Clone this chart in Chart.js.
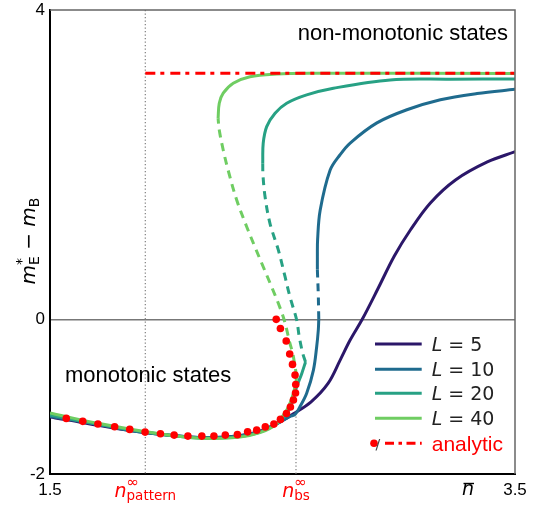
<!DOCTYPE html>
<html>
<head>
<meta charset="utf-8">
<script src="https://cdn.jsdelivr.net/npm/chart.js@4.4.0/dist/chart.umd.min.js"></script>
<style>
  html, body { margin: 0; padding: 0; background: #fff; }
</style>
</head>
<body>
<canvas id="fig" width="538" height="506"></canvas>
<script>
// ticks and special positions on the axes
const xTicks = [1.5, 3.5];
const yTicks = [-2, 0, 4];
const nPattern = 1.91;
const nBs = 2.558;
const yJoin = -1.21;
const analyticLevel = 3.182;

// system sizes and their colours
const sizes = [5, 10, 20, 40];
const colours = ['#2b1769', '#1f6b8e', '#27a184', '#6fcd62'];

// curves as [n, m*_E - m_B]; "mid" is the unstable (dashed) branch
const l5 = [[1.500,-1.264],[1.567,-1.296],[1.713,-1.374],[1.907,-1.464],[2.101,-1.523],[2.209,-1.529],
  [2.317,-1.503],[2.403,-1.445],[2.489,-1.329],[2.545,-1.225],[2.623,-1.066],[2.696,-0.828],[2.748,-0.527],
  [2.791,-0.268],[2.843,0.0],[2.912,0.405],[2.981,0.819],[3.050,1.155],[3.136,1.505],[3.244,1.802],
  [3.381,2.035],[3.501,2.168]];

const l10Low = [[1.500,-1.255],[1.567,-1.287],[1.713,-1.365],[1.907,-1.464],[2.101,-1.520],[2.209,-1.527],
  [2.317,-1.508],[2.403,-1.450],[2.489,-1.326],[2.532,-1.255],[2.554,-1.229],[2.575,-1.131],[2.604,-0.957],
  [2.633,-0.656],[2.647,-0.354],[2.654,-0.138],[2.656,0.0]];
const l10Mid = [[2.656,0.0],[2.654,0.31],[2.650,0.64]];
const l10High = [[2.650,0.64],[2.650,0.80],[2.651,1.03],[2.662,1.41],[2.705,1.93],[2.748,2.13],
  [2.791,2.28],[2.906,2.54],[3.035,2.71],[3.179,2.84],[3.337,2.92],[3.501,2.975]];

const l20Low = [[1.500,-1.238],[1.567,-1.277],[1.713,-1.361],[1.907,-1.458],[2.101,-1.529],[2.209,-1.536],
  [2.317,-1.516],[2.403,-1.458],[2.480,-1.341],[2.523,-1.199],[2.540,-1.087],[2.561,-0.872],[2.583,-0.699],
  [2.599,-0.552]];
const l20Mid = [[2.599,-0.552],[2.587,-0.440],[2.572,-0.225],[2.561,-0.009],[2.532,0.292],[2.511,0.551],
  [2.482,0.897],[2.446,1.242],[2.425,1.586],[2.416,1.867],[2.415,2.018]];
const l20High = [[2.415,2.018],[2.417,2.277],[2.432,2.492],[2.468,2.665],[2.518,2.794],[2.604,2.902],
  [2.719,2.988],[2.963,3.096],[3.222,3.105],[3.501,3.109]];

const l40Low = [[1.500,-1.212],[1.567,-1.257],[1.713,-1.348],[1.907,-1.451],[2.101,-1.529],[2.209,-1.542],
  [2.317,-1.523],[2.403,-1.464],[2.468,-1.367],[2.518,-1.173],[2.540,-1.022],[2.554,-0.872],[2.561,-0.743]];
const l40Mid = [[2.561,-0.743],[2.554,-0.613],[2.544,-0.440],[2.532,-0.310],[2.515,-0.096],[2.503,0.034],
  [2.482,0.207],[2.453,0.422],[2.417,0.680],[2.381,0.939],[2.346,1.198],[2.303,1.543],[2.266,1.931],
  [2.245,2.190],[2.228,2.449],[2.223,2.600]];
const l40High = [[2.223,2.600],[2.228,2.794],[2.245,2.924],[2.288,3.053],[2.360,3.138],[2.475,3.173],
  [2.619,3.182],[3.501,3.180]];

// analytic result: dots for the monotonic branch, flat line for the non-monotonic one
const analyticDots = [[1.570,-1.281],[1.641,-1.319],[1.706,-1.354],[1.778,-1.389],[1.843,-1.423],[1.909,-1.458],
  [1.975,-1.480],[2.034,-1.497],[2.093,-1.510],[2.153,-1.510],[2.205,-1.510],[2.254,-1.497],[2.306,-1.491],
  [2.350,-1.455],[2.389,-1.433],[2.426,-1.391],[2.463,-1.355],[2.491,-1.294],[2.517,-1.218],[2.534,-1.134],
  [2.547,-1.044],[2.556,-0.953],[2.557,-0.844],[2.554,-0.721],[2.543,-0.583],[2.531,-0.449],[2.516,-0.281],
  [2.491,-0.119],[2.473,0.0]];
const analyticLine = [[nPattern, analyticLevel], [3.5, analyticLevel]];

const branches = [
  [l5],
  [l10Low, l10Mid, l10High],
  [l20Low, l20Mid, l20High],
  [l40Low, l40Mid, l40High]
];

const toXY = arr => arr.map(p => ({ x: p[0], y: p[1] }));

// first dataset is drawn on top in Chart.js, so analytic goes first and L=5 last
const datasets = [
  { data: toXY(analyticDots), showLine: false, pointRadius: 3.8, pointBackgroundColor: '#ff0000',
    pointBorderWidth: 0 },
  { data: toXY(analyticLine), showLine: true, pointRadius: 0, borderColor: '#ff0000', borderWidth: 3,
    borderDash: [10, 5, 4, 6] }
];
for (let i = sizes.length - 1; i >= 0; i--) {
  branches[i].forEach((b, k) => {
    const dashed = branches[i].length === 3 && k === 1;
    datasets.push({
      data: toXY(b), showLine: true, pointRadius: 0, borderColor: colours[i], borderWidth: 3,
      borderDash: dashed ? [8, 6] : [], tension: 0.35
    });
  });
}

// draw a run of text pieces (sub/superscripts) starting at x, baseline y
function drawParts(ctx, parts, x, y) {
  let cx = x;
  parts.forEach(p => {
    ctx.font = p.font;
    ctx.fillStyle = p.color || '#000';
    ctx.fillText(p.t, cx, y + (p.dy || 0));
    if (!p.stay) cx += ctx.measureText(p.t).width;
  });
  return cx - x;
}
function partsWidth(ctx, parts) {
  let w = 0;
  parts.forEach(p => { ctx.font = p.font; if (!p.stay) w += ctx.measureText(p.t).width; });
  return w;
}

const decor = {
  id: 'decor',
  beforeDatasetsDraw(chart) {
    const ctx = chart.ctx, a = chart.chartArea;
    const xs = chart.scales.x, ys = chart.scales.y;
    ctx.save();
    ctx.strokeStyle = '#888';
    ctx.lineWidth = 1.3;
    ctx.setLineDash([1.3, 2.2]);
    let px = xs.getPixelForValue(nPattern);
    ctx.beginPath(); ctx.moveTo(px, a.top); ctx.lineTo(px, a.bottom); ctx.stroke();
    px = xs.getPixelForValue(nBs);
    ctx.beginPath(); ctx.moveTo(px, ys.getPixelForValue(yJoin)); ctx.lineTo(px, a.bottom); ctx.stroke();
    ctx.restore();
  },
  afterDraw(chart) {
    const ctx = chart.ctx, a = chart.chartArea;
    const xs = chart.scales.x;
    ctx.save();
    // top and right frame
    ctx.strokeStyle = '#666';
    ctx.lineWidth = 1.5;
    ctx.beginPath();
    ctx.moveTo(a.left, a.top); ctx.lineTo(a.right, a.top); ctx.lineTo(a.right, a.bottom);
    ctx.stroke();

    const sans = 'Liberation Sans, Arial, sans-serif';
    const dv = '"DejaVu Sans", sans-serif';
    ctx.textBaseline = 'alphabetic';

    // region labels
    ctx.fillStyle = '#000';
    ctx.font = '22px ' + sans;
    ctx.textAlign = 'right';
    ctx.fillText('non-monotonic states', 508, 40);
    ctx.textAlign = 'left';
    ctx.fillText('monotonic states', 65, 382);

    // special x labels in red
    const red = '#ff0000';
    const pat = [
      { t: 'n', font: 'italic 19px ' + dv, color: red },
      { t: '\u221E', font: '15px ' + dv, color: red, dy: -10, stay: true },
      { t: 'pattern', font: '13.5px ' + dv, color: red, dy: 3 }
    ];
    let cx = xs.getPixelForValue(nPattern);
    drawParts(ctx, pat, cx - partsWidth(ctx, pat) / 2, 496.5);
    const bs = [
      { t: 'n', font: 'italic 19px ' + dv, color: red },
      { t: '\u221E', font: '15px ' + dv, color: red, dy: -10, stay: true },
      { t: 'bs', font: '13.5px ' + dv, color: red, dy: 3 }
    ];
    ctx.font = '15px ' + dv;
    const infW = ctx.measureText('\u221E').width;
    const bsW = Math.max(partsWidth(ctx, bs), partsWidth(ctx, [bs[0]]) + infW);
    cx = xs.getPixelForValue(nBs);
    drawParts(ctx, bs, cx - bsW / 2, 496.5);

    // n-bar axis label
    ctx.fillStyle = '#000';
    ctx.font = 'italic 19px ' + dv;
    ctx.textAlign = 'center';
    ctx.fillText('n', 468, 495);
    ctx.strokeStyle = '#000';
    ctx.lineWidth = 1.4;
    ctx.beginPath(); ctx.moveTo(463.5, 483.5); ctx.lineTo(474, 483.5); ctx.stroke();
    ctx.textAlign = 'left';

    // y label, rotated
    ctx.save();
    ctx.translate(35, 241);
    ctx.rotate(-Math.PI / 2);
    const ylab = [
      { t: 'm', font: 'italic 20px ' + dv },
      { t: '*', font: '14px ' + dv, dy: -9, stay: true },
      { t: 'E', font: '14px ' + dv, dy: 4 },
      { t: ' \u2212 ', font: '20px ' + dv },
      { t: 'm', font: 'italic 20px ' + dv },
      { t: 'B', font: '14px ' + dv, dy: 4 }
    ];
    drawParts(ctx, ylab, -partsWidth(ctx, ylab) / 2, 0);
    ctx.restore();

    // legend
    const rows = [344, 369.3, 393.3, 418.3];
    sizes.forEach((s, i) => {
      const y = rows[i];
      ctx.strokeStyle = colours[i];
      ctx.lineWidth = 3;
      ctx.setLineDash([]);
      ctx.beginPath(); ctx.moveTo(375, y); ctx.lineTo(421.7, y); ctx.stroke();
      drawParts(ctx, [
        { t: 'L', font: 'italic 19px ' + dv, color: '#222' },
        { t: ' = ' + s, font: '19px ' + dv, color: '#222' }
      ], 431.7, y + 7);
    });
    const ya = 443.3;
    ctx.fillStyle = red;
    ctx.beginPath(); ctx.arc(374, ya, 3.8, 0, Math.PI * 2); ctx.fill();
    ctx.fillStyle = '#444';
    ctx.font = '14px ' + dv;
    ctx.fillText('/', 375.5, ya + 5.5);
    ctx.strokeStyle = red;
    ctx.lineWidth = 3;
    ctx.setLineDash([9, 4.5, 3.5, 4.5]);
    ctx.beginPath(); ctx.moveTo(385, ya); ctx.lineTo(421.7, ya); ctx.stroke();
    ctx.setLineDash([]);
    ctx.fillStyle = red;
    ctx.font = '21px ' + sans;
    ctx.fillText('analytic', 431.7, ya + 7.5);
    ctx.restore();
  }
};

new Chart(document.getElementById('fig'), {
  type: 'scatter',
  data: { datasets: datasets },
  options: {
    responsive: false,
    animation: false,
    devicePixelRatio: 1,
    layout: { padding: { top: 10, right: 23, left: 0, bottom: 0 } },
    plugins: { legend: { display: false }, tooltip: { enabled: false } },
    scales: {
      x: {
        type: 'linear', min: 1.5, max: 3.5,
        afterBuildTicks: s => { s.ticks = xTicks.map(v => ({ value: v })); },
        afterFit: s => { s.height = 32; s.paddingLeft = 0; s.paddingRight = 0; },
        ticks: { color: '#000', font: { family: 'Liberation Sans', size: 17 }, padding: 6, maxRotation: 0,
          autoSkip: false },
        grid: { display: false, drawTicks: false },
        border: { display: true, color: '#000', width: 2 }
      },
      y: {
        type: 'linear', min: -2, max: 4,
        afterBuildTicks: s => { s.ticks = yTicks.map(v => ({ value: v })); },
        afterFit: s => { s.width = 50; s.paddingTop = 0; s.paddingBottom = 0; },
        ticks: { color: '#000', font: { family: 'Liberation Sans', size: 17 }, padding: 5, autoSkip: false },
        grid: { color: c => (c.tick && c.tick.value === 0) ? '#777' : 'rgba(0,0,0,0)', lineWidth: 1.5,
          drawTicks: false },
        border: { display: true, color: '#000', width: 2 }
      }
    }
  },
  plugins: [decor]
});
</script>
</body>
</html>
